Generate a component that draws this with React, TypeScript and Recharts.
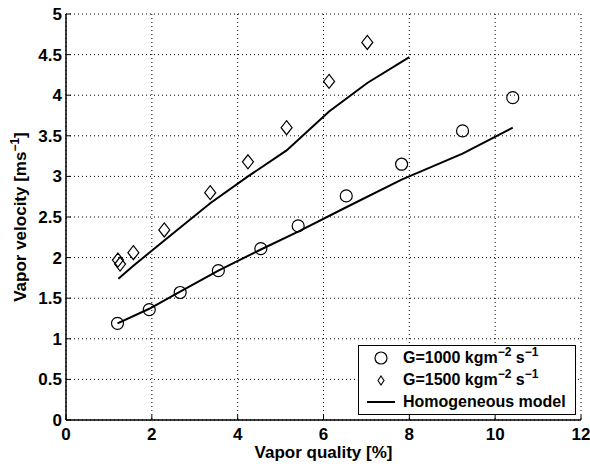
import React from 'react';
import { ComposedChart, Line, Scatter, XAxis, YAxis, CartesianGrid, Legend } from 'recharts';

const FONT = '"Liberation Sans", Arial, Helvetica, sans-serif';

const xTicks = [0, 2, 4, 6, 8, 10, 12];
const yTicks = [0, 0.5, 1, 1.5, 2, 2.5, 3, 3.5, 4, 4.5, 5];

// measured points, G = 1000 kg m^-2 s^-1
const g1000Quality = [1.2, 1.94, 2.66, 3.55, 4.54, 5.41, 6.53, 7.82, 9.24, 10.41];
const g1000Velocity = [1.19, 1.36, 1.57, 1.84, 2.11, 2.39, 2.76, 3.15, 3.56, 3.97];

// measured points, G = 1500 kg m^-2 s^-1
const g1500Quality = [1.21, 1.26, 1.57, 2.29, 3.36, 4.24, 5.14, 6.13, 7.02];
const g1500Velocity = [1.97, 1.92, 2.06, 2.34, 2.8, 3.18, 3.6, 4.17, 4.65];

// homogeneous model curves
const model1000Quality = [1.2, 1.94, 2.66, 3.55, 4.54, 5.41, 6.53, 7.82, 9.24, 10.41];
const model1000Velocity = [1.19, 1.37, 1.58, 1.84, 2.1, 2.32, 2.62, 2.96, 3.28, 3.6];

const model1500Quality = [1.22, 1.57, 2.29, 3.36, 4.24, 5.14, 6.13, 7.02, 8.0];
const model1500Velocity = [1.74, 1.9, 2.21, 2.67, 3.0, 3.32, 3.8, 4.15, 4.47];

const toPoints = (xs: number[], ys: number[]) => xs.map((x, i) => ({ x, y: ys[i] }));

const g1000 = toPoints(g1000Quality, g1000Velocity);
const g1500 = toPoints(g1500Quality, g1500Velocity);
const model1000 = toPoints(model1000Quality, model1000Velocity);
const model1500 = toPoints(model1500Quality, model1500Velocity);

const tickText = { fontFamily: FONT, fontWeight: 'bold' as const, fontSize: 17, fill: '#000' };

function BottomTick({ x, y, payload }: any) {
  return (
    <g>
      <line x1={x} y1={y} x2={x} y2={y - 5} stroke="#000" />
      <text x={x} y={y + 14} dy="0.35em" textAnchor="middle" {...tickText}>
        {payload.value}
      </text>
    </g>
  );
}

function LeftTick({ x, y, payload }: any) {
  return (
    <g>
      <line x1={x} y1={y} x2={x + 5} y2={y} stroke="#000" />
      <text x={x - 4} y={y} dy="0.35em" textAnchor="end" {...tickText}>
        {payload.value}
      </text>
    </g>
  );
}

function TopTick({ x, y }: any) {
  return <line x1={x} y1={y} x2={x} y2={y + 5} stroke="#000" />;
}

function RightTick({ x, y }: any) {
  return <line x1={x} y1={y} x2={x - 5} y2={y} stroke="#000" />;
}

function CircleMark({ cx, cy }: any) {
  return <circle cx={cx} cy={cy} r={6} fill="none" stroke="#000" strokeWidth={1.2} />;
}

function DiamondMark({ cx, cy }: any) {
  const w = 5.5;
  const h = 7;
  return (
    <polygon
      points={`${cx},${cy - h} ${cx + w},${cy} ${cx},${cy + h} ${cx - w},${cy}`}
      fill="none"
      stroke="#000"
      strokeWidth={1.2}
    />
  );
}

function YLabel({ viewBox }: any) {
  const cx = 20;
  const cy = viewBox.y + viewBox.height / 2;
  return (
    <text
      transform={`translate(${cx},${cy}) rotate(-90)`}
      textAnchor="middle"
      dy="0.35em"
      fontFamily={FONT}
      fontWeight="bold"
      fontSize={17}
      fill="#000"
    >
      Vapor velocity [ms
      <tspan dy={-7} fontSize={12}>−1</tspan>
      <tspan dy={7}>]</tspan>
    </text>
  );
}

function XLabel({ viewBox }: any) {
  const cx = viewBox.x + viewBox.width / 2;
  return (
    <text x={cx} y={458} textAnchor="middle" fontFamily={FONT} fontWeight="bold" fontSize={17} fill="#000">
      Vapor quality [%]
    </text>
  );
}

const supStyle: React.CSSProperties = { fontSize: 12, position: 'relative', top: -7 };

function LegendBox() {
  const row: React.CSSProperties = { display: 'flex', alignItems: 'center', height: 22 };
  const icon: React.CSSProperties = { width: 44, display: 'flex', justifyContent: 'center' };
  return (
    <div
      style={{
        border: '1.5px solid #000',
        background: '#fff',
        fontFamily: FONT,
        fontWeight: 'bold',
        fontSize: 16,
        color: '#000',
        paddingTop: 1,
        boxSizing: 'border-box',
        height: 70,
        width: 218,
      }}
    >
      <div style={row}>
        <div style={icon}>
          <svg width={14} height={14}>
            <circle cx={7} cy={7} r={6} fill="none" stroke="#000" strokeWidth={1.2} />
          </svg>
        </div>
        <span>
          G=1000 kgm<span style={supStyle}>−2</span> s<span style={supStyle}>−1</span>
        </span>
      </div>
      <div style={row}>
        <div style={icon}>
          <svg width={8} height={11}>
            <polygon points="4,1 7,5.5 4,10 1,5.5" fill="none" stroke="#000" strokeWidth={1.1} />
          </svg>
        </div>
        <span>
          G=1500 kgm<span style={supStyle}>−2</span> s<span style={supStyle}>−1</span>
        </span>
      </div>
      <div style={row}>
        <div style={icon}>
          <svg width={30} height={4}>
            <line x1={1} y1={2} x2={29} y2={2} stroke="#000" strokeWidth={2} />
          </svg>
        </div>
        <span>Homogeneous model</span>
      </div>
    </div>
  );
}

export default function App() {
  return (
    <div style={{ position: 'absolute', left: 0, top: 0, background: '#fff' }}>
      <ComposedChart width={590} height={466} margin={{ top: 14, right: 9, bottom: 0, left: 0 }}>
        <CartesianGrid stroke="#000" strokeDasharray="1 3" />
        <XAxis
          dataKey="x"
          type="number"
          domain={[0, 12]}
          ticks={xTicks}
          height={46}
          tickSize={0}
          tickMargin={0}
          tickLine={false}
          axisLine={{ stroke: '#000', strokeWidth: 1.5 }}
          tick={<BottomTick />}
          label={<XLabel />}
        />
        <XAxis
          xAxisId="top"
          orientation="top"
          dataKey="x"
          type="number"
          domain={[0, 12]}
          ticks={xTicks}
          height={0}
          tickSize={0}
          tickMargin={0}
          tickLine={false}
          axisLine={{ stroke: '#000', strokeWidth: 1.5 }}
          tick={<TopTick />}
        />
        <YAxis
          type="number"
          domain={[0, 5]}
          ticks={yTicks}
          width={66}
          tickSize={0}
          tickMargin={0}
          tickLine={false}
          axisLine={{ stroke: '#000', strokeWidth: 1.5 }}
          tick={<LeftTick />}
          label={<YLabel />}
        />
        <YAxis
          yAxisId="right"
          orientation="right"
          type="number"
          domain={[0, 5]}
          ticks={yTicks}
          width={0}
          tickSize={0}
          tickMargin={0}
          tickLine={false}
          axisLine={{ stroke: '#000', strokeWidth: 1.5 }}
          tick={<RightTick />}
        />
        <Line
          data={model1000}
          dataKey="y"
          type="linear"
          stroke="#000"
          strokeWidth={2}
          dot={false}
          activeDot={false}
          isAnimationActive={false}
          legendType="line"
        />
        <Line
          data={model1500}
          dataKey="y"
          type="linear"
          stroke="#000"
          strokeWidth={2}
          dot={false}
          activeDot={false}
          isAnimationActive={false}
        />
        <Scatter data={g1000} dataKey="y" shape={<CircleMark />} isAnimationActive={false} />
        <Scatter data={g1500} dataKey="y" shape={<DiamondMark />} isAnimationActive={false} />
        <Legend
          layout="vertical"
          align="center"
          verticalAlign="middle"
          wrapperStyle={{ left: 358, top: 345, width: 218 }}
          content={<LegendBox />}
        />
      </ComposedChart>
    </div>
  );
}
